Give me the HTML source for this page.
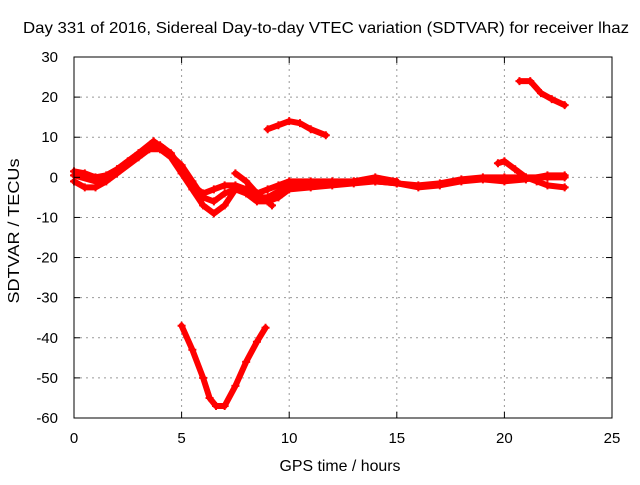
<!DOCTYPE html>
<html><head><meta charset="utf-8"><style>
body{margin:0;background:#fff}
svg text{font-family:"Liberation Sans",sans-serif;font-size:15px;fill:#000}
svg text.big{font-size:16px}
</style></head><body>
<svg id="chart" width="640" height="480">
<rect width="640" height="480" fill="#fff"/>
<g id="grid"></g><g id="series"></g><g id="axes"></g>
<text class="big" x="326" y="33" text-anchor="middle" textLength="606" lengthAdjust="spacingAndGlyphs">Day 331 of 2016, Sidereal Day-to-day VTEC variation (SDTVAR) for receiver lhaz</text>
<text class="big" x="340" y="471" text-anchor="middle" textLength="121" lengthAdjust="spacingAndGlyphs">GPS time / hours</text>
<text class="big" transform="translate(19,231) rotate(-90)" text-anchor="middle" textLength="145" lengthAdjust="spacingAndGlyphs">SDTVAR / TECUs</text>
</svg>
<script>
const xTicks=[0,5,10,15,20,25];
const yTicks=[30,20,10,0,-10,-20,-30,-40,-50,-60];
const s1=[[0,1.5],[0.5,1],[1,0],[1.5,0.5],[2,2],[2.5,4],[3,6],[3.5,7.5],[4,8],[4.5,6],[5,2],[5.5,-2],[6,-4],[6.5,-3],[7,-2],[7.5,-2],[8,-3],[8.5,-4],[9,-3],[9.5,-2],[10,-1],[11,-1],[12,-1],[13,-1],[14,-1],[15,-1.5],[16,-2],[17,-1.5],[18,-0.5],[19,0],[20,0],[21,0],[22,0],[22.8,0]];
const s2=[[0,-1],[0.5,-2.5],[1,-2.5],[1.5,-1],[2,1],[3,5],[3.5,7],[4,7],[4.5,5],[5,1],[5.5,-3],[6,-7],[6.5,-9],[7,-7],[7.5,-3],[8,-4],[8.5,-6],[9,-6],[9.5,-5],[10,-3],[11,-2.5],[12,-2],[13,-1.5],[14,-1],[15,-1.5],[16,-2.5],[17,-2],[18,-1],[19,-0.5],[20,-1],[21,-0.5],[22,0.5],[22.8,0.5]];
const s3=[[0,0.5],[1,-1],[2,2],[3,6],[3.7,9],[4.2,7],[5,3],[5.5,-1],[6,-5],[6.5,-6],[7,-4],[7.5,-3],[8,-3.5],[8.5,-5],[9,-5],[10,-2],[11,-1.5],[12,-1.5],[13,-1],[14,0],[15,-1]];
const s4=[[7.5,1],[8,-1],[8.5,-4],[9,-6],[9.2,-7]];
const s5=[[19.7,3.5],[20,4],[20.5,2],[21,0],[21.5,-1],[22,-2],[22.8,-2.5]];
const s6=[[9,12],[9.5,13],[10,14],[10.5,13.5],[11,12],[11.7,10.5]];
const s7=[[20.7,24],[21.2,24],[21.7,21],[22.2,19.5],[22.8,18]];
const s8=[[5,-37],[5.5,-43],[6,-50],[6.3,-55],[6.6,-57],[7,-57],[7.5,-52],[8,-46],[8.5,-41],[8.9,-37.5]];
const allSeries=[s1,s2,s3,s4,s5,s6,s7,s8];
const X0=74,X1=612,Y0=57,Y1=418;
const xs=v=>X0+(v-0)/(25-0)*(X1-X0);
const ys=v=>Y1-(v+60)/90*(Y1-Y0);
const NS="http://www.w3.org/2000/svg";
function mk(t,a,p){const e=document.createElementNS(NS,t);for(const k in a)e.setAttribute(k,a[k]);p.appendChild(e);return e;}
const grid=document.getElementById('grid'),axes=document.getElementById('axes'),ser=document.getElementById('series');
xTicks.forEach(t=>{const x=xs(t);
 if(t>0&&t<25){const g=mk('line',{x1:x,x2:x,y1:Y0,y2:Y1,stroke:'#999','stroke-dasharray':'2,4'},grid);
 
 }
 mk('line',{x1:x,x2:x,y1:Y1,y2:Y1-6,stroke:'#000'},axes);mk('line',{x1:x,x2:x,y1:Y0,y2:Y0+6,stroke:'#000'},axes);
 const l=mk('text',{x:x,y:Y1+25,'text-anchor':'middle'},axes);l.textContent=t;
 
 });
yTicks.forEach(t=>{const y=ys(t);
 if(t>-60&&t<30){const g=mk('line',{x1:X0,x2:X1,y1:y,y2:y,stroke:'#999','stroke-dasharray':'2,4'},grid);
 
 }
 mk('line',{x1:X0,x2:X0+6,y1:y,y2:y,stroke:'#000'},axes);mk('line',{x1:X1,x2:X1-6,y1:y,y2:y,stroke:'#000'},axes);
 const l=mk('text',{x:X0-16,y:y+5,'text-anchor':'end'},axes);l.textContent=t;
 
 });
const fr=mk('rect',{x:X0,y:Y0,width:X1-X0,height:Y1-Y0,fill:'none',stroke:'#000'},axes);


allSeries.forEach((s,i)=>{
 const pl=mk('polyline',{points:s.map(p=>xs(p[0])+','+ys(p[1])).join(' '),fill:'none',stroke:'#f00','stroke-width':6,'stroke-linejoin':'round','stroke-linecap':'round'},ser);
 
 
 s.forEach(p=>{const x=xs(p[0]),y=ys(p[1]);
  const m=mk('path',{d:`M${x-4},${y}H${x+4}M${x},${y-4}V${y+4}`,stroke:'#f00','stroke-width':2},ser);
  
  });
});
</script>
</body></html>
